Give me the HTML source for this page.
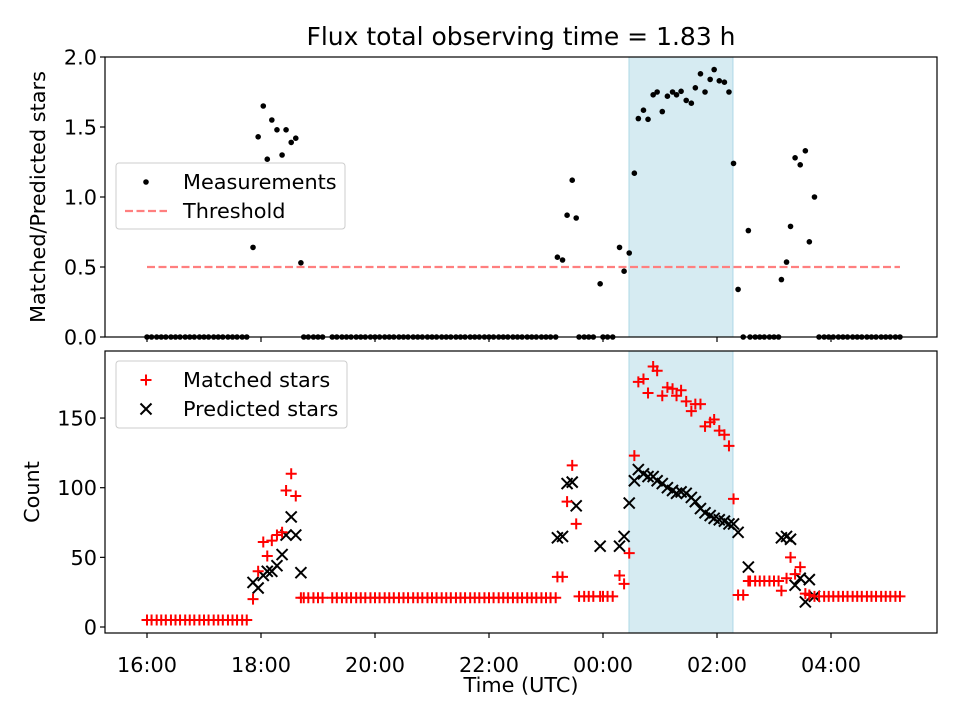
<!DOCTYPE html>
<html><head><meta charset="utf-8"><style>
body{margin:0;background:#fff}
svg{font-family:"DejaVu Sans","Liberation Sans",sans-serif}
</style></head><body>
<svg id="c" width="960" height="720" xmlns="http://www.w3.org/2000/svg"></svg>
<script>
// times in hours relative to 00:00 UTC
const nzTimes=[-6.14,-6.05,-5.96,-5.89,-5.81,-5.72,-5.63,-5.56,-5.47,-5.39,-5.30,
 -0.80,-0.71,-0.63,-0.54,-0.47,-0.05,0.29,0.37,0.46,0.55,0.62,0.71,0.79,0.88,0.95,1.04,1.13,1.22,1.29,1.37,1.46,1.55,1.62,1.71,1.79,1.88,1.95,2.04,2.13,2.21,2.29,2.37,
 2.55,3.13,3.22,3.29,3.37,3.46,3.55,3.62,3.71];
const ratios=[0.64,1.43,1.65,1.27,1.55,1.48,1.30,1.48,1.39,1.42,0.53,
 0.57,0.55,0.87,1.12,0.85,0.38,0.64,0.47,0.60,1.17,1.56,1.62,1.555,1.73,1.75,1.61,1.72,1.75,1.73,1.755,1.69,1.67,1.78,1.88,1.75,1.84,1.91,1.83,1.82,1.75,1.24,0.34,
 0.76,0.41,0.535,0.79,1.28,1.23,1.33,0.68,1.00];
const predicted=[32,28,37,40,40,44,52,66,79,66,39,
 64,65,103,104,87,58,58,65,89,105,113,110,108,108,105,103,100,98,96,97,96,93,90,85,82,80,78,77,76,74,74,68,
 43,64,65,63,30,35,18,34,22];
const matched=[20,40,61,51,62,66,68,98,110,94,21,
 36,36,90,116,74,22,37,31,53,123,176,178,168,187,184,166,172,171,166,170,162,155,160,160,144,147,149,141,138,130,92,23,
 33,26,35,50,38,43,24,23,22];
const zeroTimes=[-8.00,-7.92,-7.83,-7.75,-7.67,-7.58,-7.50,-7.42,-7.33,-7.25,-7.17,-7.08,-7.00,-6.92,-6.83,-6.75,-6.67,-6.58,-6.50,-6.42,-6.33,-6.25,
 -5.25,-5.17,-5.08,-5.00,-4.92,-4.75,-4.67,-4.58,-4.50,-4.42,-4.33,-4.25,-4.17,-4.08,-4.00,-3.92,-3.83,-3.75,-3.67,-3.58,-3.50,-3.42,-3.33,-3.25,-3.17,-3.08,-3.00,-2.92,-2.83,-2.75,-2.67,-2.58,-2.50,-2.42,-2.33,-2.25,-2.17,-2.08,-2.00,-1.92,-1.83,-1.75,-1.67,-1.58,-1.50,-1.42,-1.33,-1.25,-1.17,-1.08,-1.00,-0.92,-0.83,
 -0.42,-0.33,-0.25,-0.17,0.00,0.08,0.17,
 2.46,2.58,2.67,2.75,2.83,2.92,3.00,3.08,
 3.79,3.88,3.96,4.04,4.13,4.21,4.29,4.38,4.46,4.54,4.63,4.71,4.79,4.88,4.96,5.04,5.13,5.21];
const zeroMatched=[5,5,5,5,5,5,5,5,5,5,5,5,5,5,5,5,5,5,5,5,5,5,
 21,21,21,21,21,21,21,21,21,21,21,21,21,21,21,21,21,21,21,21,21,21,21,21,21,21,21,21,21,21,21,21,21,21,21,21,21,21,21,21,21,21,21,21,21,21,21,21,21,21,21,21,21,
 22,22,22,22,22,22,22,
 23,33,33,33,33,33,33,33,
 22,22,22,22,22,22,22,22,22,22,22,22,22,22,22,22,22,22];
const xTickHours=[-8,-6,-4,-2,0,2,4];
const xTickLabels=["16:00","18:00","20:00","22:00","00:00","02:00","04:00"];
const topTicks=[0,0.5,1.0,1.5,2.0];
const topTickLabels=["0.0","0.5","1.0","1.5","2.0"];
const botTicks=[0,50,100,150];
const threshold=0.5, thrStart=-8, thrEnd=5.21;
const obsStart=0.456, obsEnd=2.28;

const NS="http://www.w3.org/2000/svg";
const svg=document.getElementById('c');
function el(t,a,p){const e=document.createElementNS(NS,t);for(const k in a)e.setAttribute(k,a[k]);(p||svg).appendChild(e);return e;}
const L=105,R=937,T1=57,B1=337,T2=351,B2=633;
const FS=20.8;
const X=h=>603+h*57;
const Y1=v=>337-v*140;
const Y2=v=>627-v*1.393;

let s=el('rect',{x:X(obsStart),y:T1,width:X(obsEnd)-X(obsStart),height:B1-T1,fill:'#add8e6','fill-opacity':0.5,stroke:'#add8e6'});


s=el('rect',{x:X(obsStart),y:T2,width:X(obsEnd)-X(obsStart),height:B2-T2,fill:'#add8e6','fill-opacity':0.5,stroke:'#add8e6'});



let th=el('line',{x1:X(thrStart),x2:X(thrEnd),y1:Y1(threshold),y2:Y1(threshold),stroke:'#ff7f7f','stroke-width':2.2,'stroke-dasharray':'8,3.5'});



const gTop=el('g',{});


zeroTimes.forEach(t=>{const c=el('circle',{cx:X(t),cy:Y1(0),r:2.8,fill:'#000'},gTop);

});
nzTimes.forEach((t,i)=>{const c=el('circle',{cx:X(t),cy:Y1(ratios[i]),r:2.8,fill:'#000'},gTop);

});

const gM=el('g',{stroke:'#f00','stroke-width':2});


const gP=el('g',{stroke:'#000','stroke-width':2});


function plus(x,y,g){const p=el('path',{d:`M${x-5.5},${y}h11M${x},${y-5.5}v11`},g);

}
function cross(x,y,g){const p=el('path',{d:`M${x-5.5},${y-5.5}l11,11M${x-5.5},${y+5.5}l11,-11`},g);

}
zeroTimes.forEach((t,i)=>plus(X(t),Y2(zeroMatched[i]),gM));
nzTimes.forEach((t,i)=>cross(X(t),Y2(predicted[i]),gP));
nzTimes.forEach((t,i)=>plus(X(t),Y2(matched[i]),gM));
svg.appendChild(gM);

[[T1,B1,'top-axes-frame'],[T2,B2,'bottom-axes-frame']].forEach(a=>{const r=el('rect',{x:L,y:a[0],width:R-L,height:a[1]-a[0],fill:'none',stroke:'#000','stroke-width':1.2});

});

xTickHours.forEach((h,i)=>{
 el('line',{x1:X(h),x2:X(h),y1:B1,y2:B1+5,stroke:'#000','stroke-width':1.2});
 el('line',{x1:X(h),x2:X(h),y1:B2,y2:B2+5,stroke:'#000','stroke-width':1.2});
 const t=el('text',{x:X(h),y:672,'font-size':FS,'text-anchor':'middle'});t.textContent=xTickLabels[i];
 
 
});
topTicks.forEach((v,i)=>{
 el('line',{x1:L-5,x2:L,y1:Y1(v),y2:Y1(v),stroke:'#000','stroke-width':1.2});
 const t=el('text',{x:L-8,y:Y1(v)+7.5,'font-size':FS,'text-anchor':'end'});t.textContent=topTickLabels[i];
 
 
});
botTicks.forEach(v=>{
 el('line',{x1:L-5,x2:L,y1:Y2(v),y2:Y2(v),stroke:'#000','stroke-width':1.2});
 const t=el('text',{x:L-8,y:Y2(v)+7.5,'font-size':FS,'text-anchor':'end'});t.textContent=v;
 
 
});
</script>
<svg style="position:absolute;left:0;top:0" width="960" height="720" xmlns="http://www.w3.org/2000/svg" font-family="DejaVu Sans, Liberation Sans, sans-serif">
<text x="521" y="45" font-size="25" text-anchor="middle">Flux total observing time = 1.83 h</text>
<text x="521" y="692" font-size="20.8" text-anchor="middle">Time (UTC)</text>
<text transform="translate(45,197) rotate(-90)" font-size="20.8" text-anchor="middle">Matched/Predicted stars</text>
<text transform="translate(39,492) rotate(-90)" font-size="20.8" text-anchor="middle">Count</text>
<g>
<rect x="116" y="163" width="229" height="66" rx="3" fill="#fff" fill-opacity="0.85" stroke="#ccc"/>
<circle cx="146" cy="182" r="2.8" fill="#000"/>
<text x="183" y="189" font-size="20.8">Measurements</text>
<line x1="125" x2="167" y1="211" y2="211" stroke="#ff7f7f" stroke-width="2.2" stroke-dasharray="8,3.5"/>
<text x="183" y="218" font-size="20.8">Threshold</text>
</g>
<g>
<rect x="116" y="361" width="231" height="67" rx="3" fill="#fff" fill-opacity="0.85" stroke="#ccc"/>
<path d="M140.5,380h11M146,374.5v11" stroke="#f00" stroke-width="2"/>
<text x="183" y="387" font-size="20.8">Matched stars</text>
<path d="M140.5,403.5l11,11M140.5,414.5l11,-11" stroke="#000" stroke-width="2"/>
<text x="183" y="416" font-size="20.8">Predicted stars</text>
</g>
</svg>
</body></html>
